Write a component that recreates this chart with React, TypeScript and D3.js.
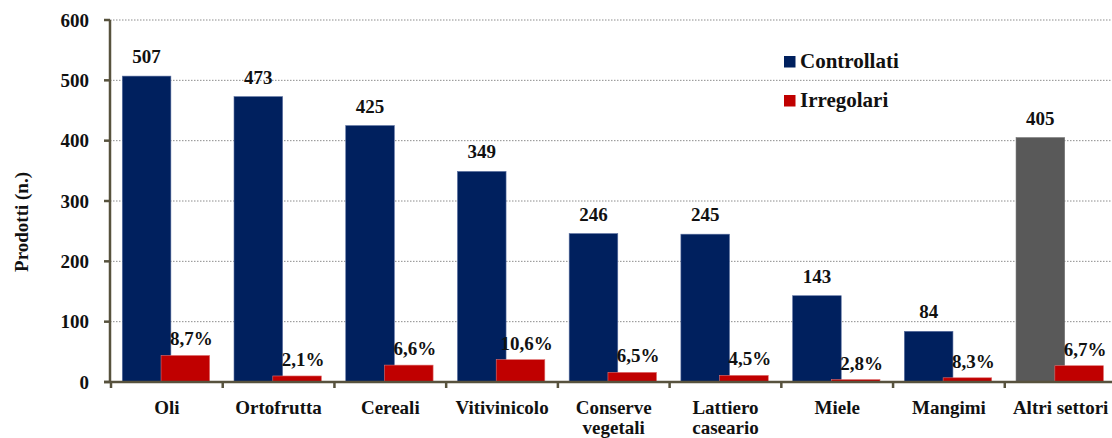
import React from "react";
import * as d3 from "d3";

const categories = ["Oli", "Ortofrutta", "Cereali", "Vitivinicolo", "Conserve vegetali", "Lattiero caseario", "Miele", "Mangimi", "Altri settori"];
const controllati = [507, 473, 425, 349, 246, 245, 143, 84, 405];
const irregolari = [44, 10, 28, 37, 16, 11, 4, 7, 27];
const percentLabels = ["8,7%", "2,1%", "6,6%", "10,6%", "6,5%", "4,5%", "2,8%", "8,3%", "6,7%"];
const yTicks = [0, 100, 200, 300, 400, 500, 600];

const W = 1112;
const H = 438;
const FONT = "Liberation Serif";
const AXIS = "#57523d";
const FS = 19;
const txt = { fontFamily: FONT, fontWeight: "bold" as const, fontSize: FS, fill: "#111" };
const legTxt = { ...txt, fontSize: 21 };

export default function App() {
  const y = d3.scaleLinear().domain([0, 600]).range([382, 20]);
  const x = d3.scaleBand<string>().domain(categories).range([111, 1116.5]).padding(0);
  const bw = x.bandwidth();
  const barW = bw * 0.435;
  const blueOff = bw * 0.101;
  const redOff = blueOff + bw * 0.347;
  const x0 = 110;

  return (
    <svg width={W} height={H} style={{ position: "absolute", left: 0, top: 0, background: "#fff" }}>
      {yTicks.filter((t) => t > 0).map((t) => (
        <line key={"g" + t} x1={x0} x2={W} y1={y(t)} y2={y(t)} stroke="#8c8c8c" strokeWidth={1} strokeDasharray="1.5,1.5" />
      ))}
      {categories.map((c, i) => {
        const bx = (x(c) as number) + blueOff;
        const rx = (x(c) as number) + redOff;
        const isOther = i === categories.length - 1;
        return (
          <g key={c}>
            <rect x={bx} y={y(controllati[i])} width={barW} height={y(0) - y(controllati[i])} fill={isOther ? "#595959" : "#00205e"} stroke={isOther ? "#6e6e6e" : "#5a6fa0"} strokeWidth={0.6} />
            <rect x={rx} y={y(irregolari[i])} width={barW} height={y(0) - y(irregolari[i])} fill="#c00000" stroke="#e07070" strokeWidth={0.6} />
            <text x={bx + barW / 2} y={y(controllati[i]) - 13} textAnchor="middle" style={txt}>{controllati[i]}</text>
            <text x={rx + barW / 2 + 6} y={y(irregolari[i]) - 10} textAnchor="middle" style={txt}>{percentLabels[i]}</text>
          </g>
        );
      })}
      <line x1={x0} x2={x0} y1={y(600)} y2={y(0) + 1} stroke={AXIS} strokeWidth={2.5} />
      {yTicks.map((t) => (
        <g key={"t" + t}>
          <line x1={x0 - 6} x2={x0} y1={y(t)} y2={y(t)} stroke={AXIS} strokeWidth={2.5} />
          <text x={89} y={y(t) + 6.5} textAnchor="end" style={txt}>{t}</text>
        </g>
      ))}
      <line x1={x0 - 6} x2={W} y1={y(0)} y2={y(0)} stroke={AXIS} strokeWidth={2.5} />
      {categories.map((c) => (
        <line key={"xt" + c} x1={x(c) as number} x2={x(c) as number} y1={y(0)} y2={y(0) + 6} stroke={AXIS} strokeWidth={2.5} />
      ))}
      {categories.map((c) => {
        const lines = c === "Altri settori" ? [c] : c.split(" ");
        const cx = (x(c) as number) + bw / 2;
        return (
          <text key={"l" + c} x={cx} y={414} textAnchor="middle" style={txt}>
            {lines.map((ln, k) => (
              <tspan key={k} x={cx} dy={k === 0 ? 0 : 20}>{ln}</tspan>
            ))}
          </text>
        );
      })}
      <text transform={`translate(28,222) rotate(-90)`} textAnchor="middle" style={txt}>Prodotti (n.)</text>
      <rect x={784} y={56} width={11.5} height={11.5} fill="#00205e" />
      <text x={800} y={67.5} style={legTxt}>Controllati</text>
      <rect x={784} y={95} width={11.5} height={11.5} fill="#c00000" />
      <text x={800} y={106.5} style={legTxt}>Irregolari</text>
    </svg>
  );
}
